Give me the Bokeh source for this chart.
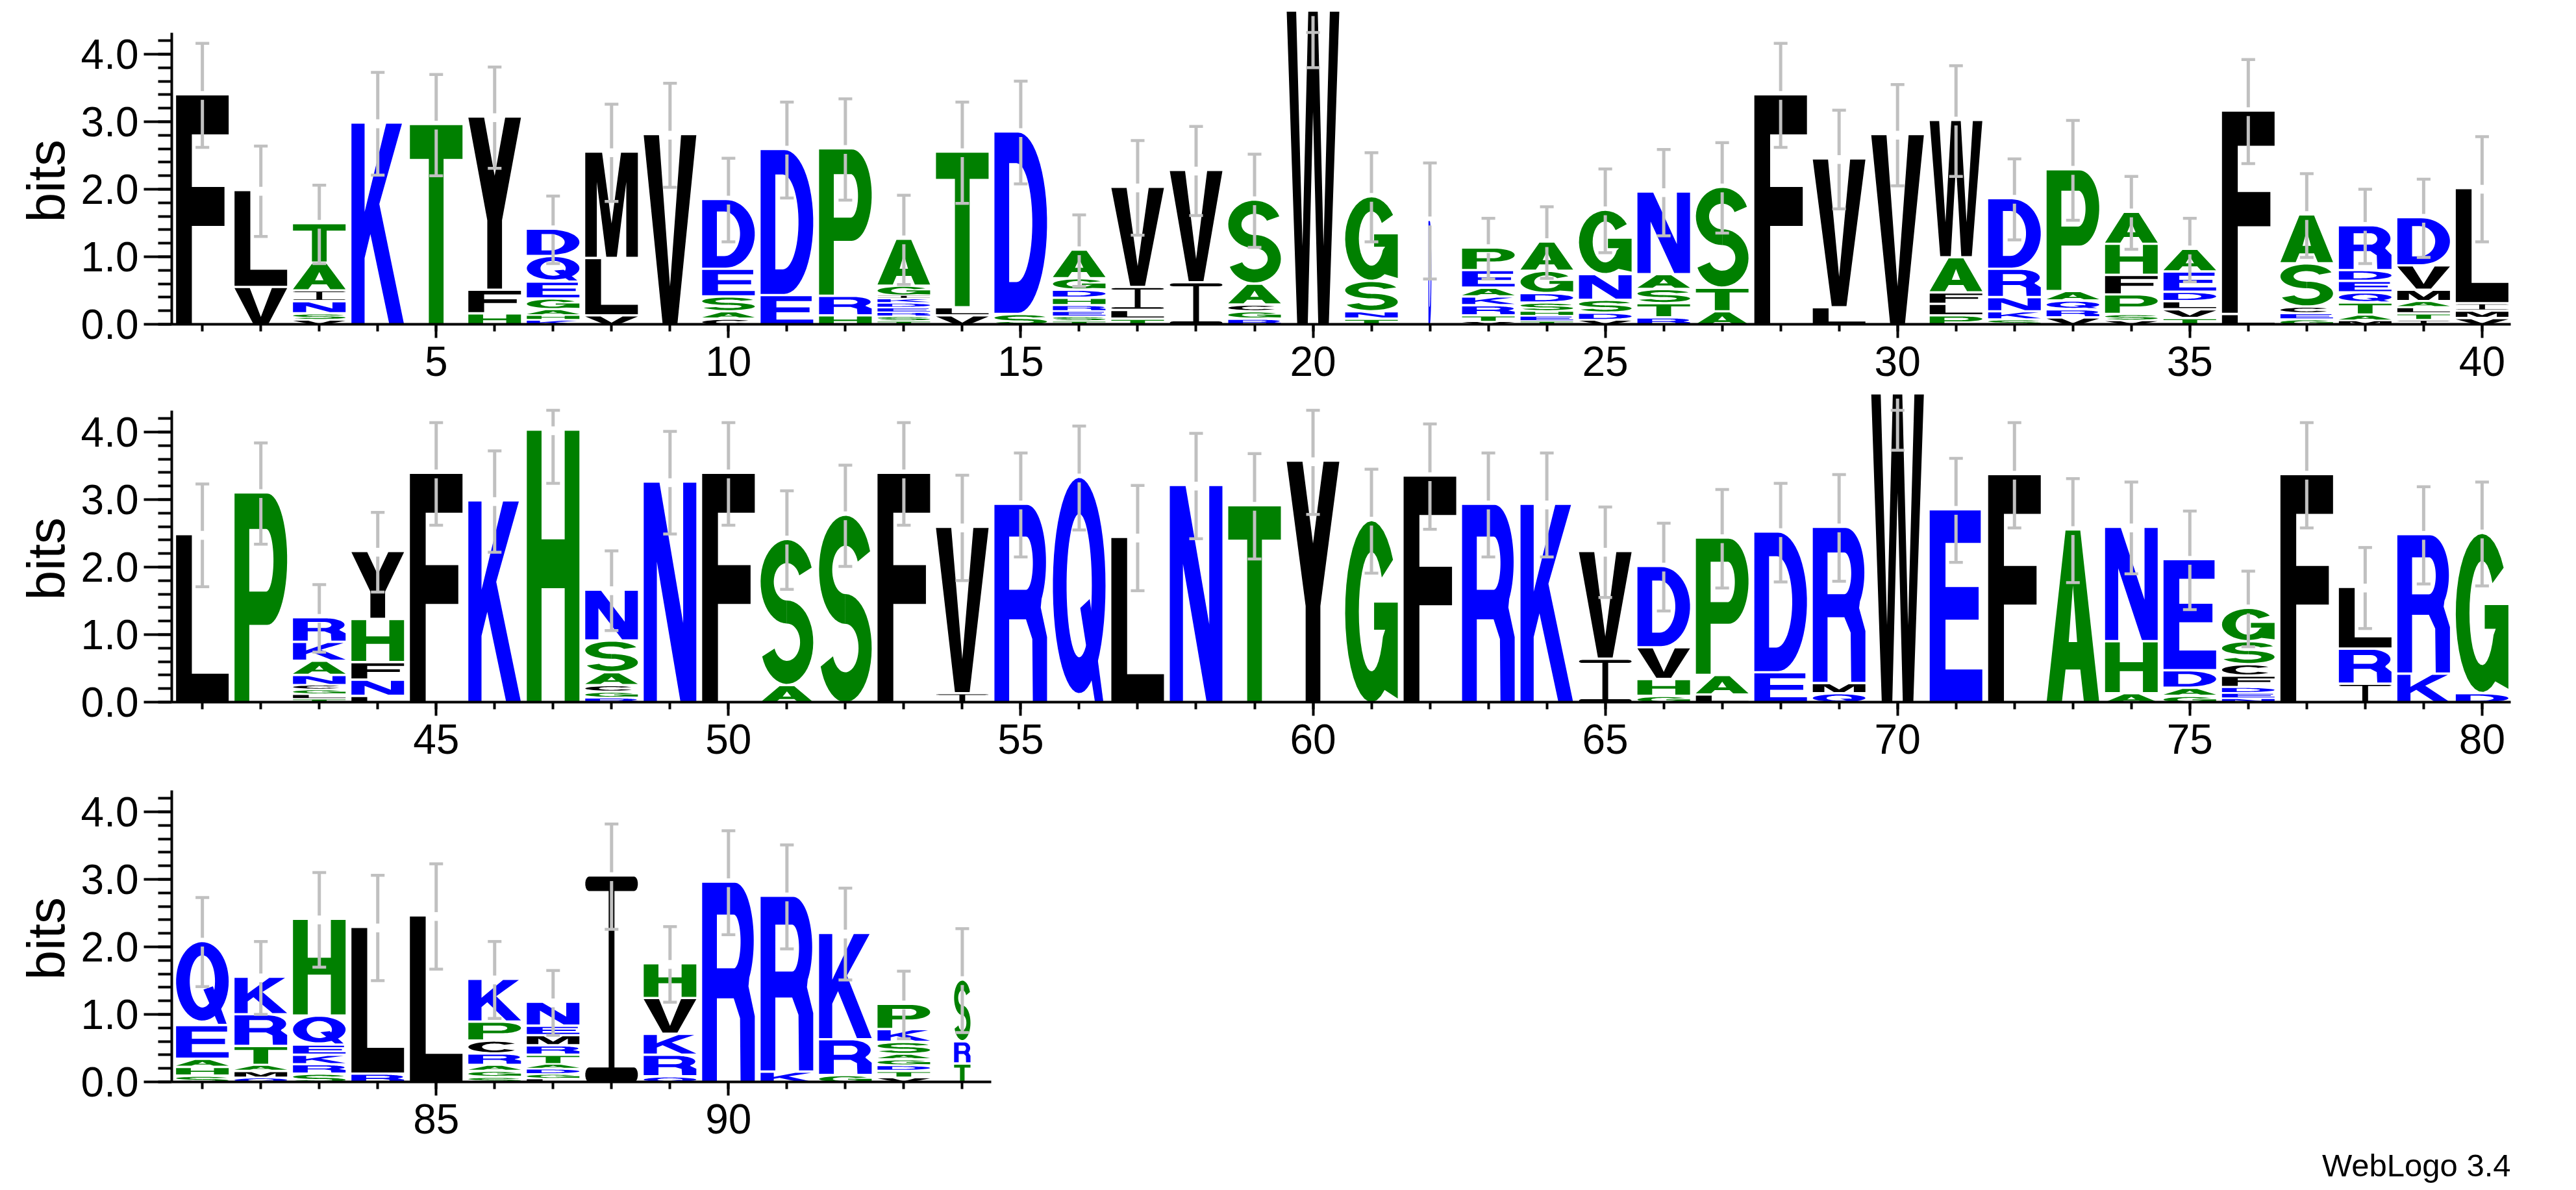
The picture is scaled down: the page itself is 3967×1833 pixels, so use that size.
import numpy as np
from bokeh.plotting import figure
from bokeh.models import (ColumnDataSource, Range1d, FixedTicker, SingleIntervalTicker,
                          PrintfTickFormatter, Title)
from bokeh.layouts import column
from bokeh.embed import file_html
from bokeh.resources import INLINE

# ---------------------------------------------------------------- data
# letters of each stack, bottom -> top, and their heights in bits
row1_letters = ["F", "VL", "VSNIAT", "K", "T", "HFY", "KHAGEQD", "VLM", "V", "CASED",
                "ED", "HRP", "TSREDKIGA", "VLT", "SD", "TSERHDGA", "TLIV", "IV", "RGCAS", "W",
                "TNSG", "D", "VTRKAEP", "TEHSDGA", "VDSNG", "RTSAN", "ATS", "F", "LV", "V",
                "PLFAW", "SKNRD", "VRQAP", "VSPFHA", "TVLDEA", "LF", "GECSA", "MATQEDR", "ITLAMVD", "VMIL"]
row1_heights = [[3.39], [0.57, 1.40], [0.08, 0.10, 0.18, 0.16, 0.41, 0.55], [2.97], [2.95],
                [0.18, 0.35, 2.53], [0.08, 0.07, 0.09, 0.16, 0.25, 0.38, 0.37], [0.15, 0.85, 1.54],
                [2.80], [0.10, 0.11, 0.22, 0.41, 1.00],
                [0.45, 2.13], [0.15, 0.29, 2.15], [0.06, 0.07, 0.06, 0.07, 0.07, 0.06, 0.05, 0.15, 0.66],
                [0.15, 0.12, 2.27], [0.17, 2.67], [0.06, 0.07, 0.08, 0.09, 0.11, 0.12, 0.17, 0.39],
                [0.10, 0.13, 0.34, 1.45], [0.64, 1.63], [0.10, 0.11, 0.10, 0.31, 1.21], [4.63],
                [0.10, 0.11, 0.45, 1.22], [1.53], [0.05, 0.10, 0.15, 0.13, 0.13, 0.26, 0.30],
                [0.06, 0.08, 0.07, 0.13, 0.14, 0.33, 0.40], [0.08, 0.11, 0.19, 0.38, 0.92],
                [0.12, 0.21, 0.21, 0.22, 1.19], [0.21, 0.35, 1.46], [3.39], [0.27, 2.17], [2.80],
                [0.15, 0.17, 0.17, 0.52, 2.00], [0.09, 0.12, 0.21, 0.42, 1.01], [0.12, 0.12, 0.13, 0.14, 1.77],
                [0.07, 0.10, 0.29, 0.29, 0.46, 0.44], [0.11, 0.13, 0.12, 0.14, 0.30, 0.30], [0.17, 2.98],
                [0.09, 0.09, 0.10, 0.64, 0.69], [0.07, 0.09, 0.18, 0.15, 0.17, 0.16, 0.63],
                [0.08, 0.10, 0.09, 0.09, 0.17, 0.36, 0.68], [0.11, 0.11, 0.11, 1.67]]
row1_err = [0.77, 0.67, 0.58, 0.76, 0.75, 0.75, 0.50, 0.72, 0.77, 0.62,
            0.71, 0.75, 0.66, 0.75, 0.76, 0.53, 0.70, 0.66, 0.69, 0.83,
            0.66, 0.86, 0.45, 0.53, 0.62, 0.64, 0.67, 0.77, 0.73, 0.75,
            0.82, 0.60, 0.74, 0.54, 0.47, 0.77, 0.62, 0.55, 0.58, 0.78]

row2_letters = ["L", "P", "TLGCNAKR", "LNFHY", "F", "K", "H", "RGCASN", "N", "F",
                "AS", "S", "F", "IV", "R", "Q", "L", "N", "T", "Y",
                "G", "F", "R", "K", "IV", "GHVD", "LAP", "ED", "QMR", "W",
                "E", "F", "A", "AHN", "GADE", "NEDFCSG", "F", "IRL", "KR", "DG"]
row2_heights = [[2.47], [3.09], [0.06, 0.07, 0.07, 0.07, 0.15, 0.21, 0.28, 0.33],
                [0.11, 0.24, 0.26, 0.64, 0.97], [3.38], [2.97], [4.02],
                [0.08, 0.09, 0.10, 0.19, 0.47, 0.72], [3.25], [3.38],
                [0.27, 2.13], [2.76], [3.38], [0.15, 2.43], [2.92], [3.32], [2.43], [3.20], [2.90], [3.56],
                [2.68], [3.34], [2.92], [2.92], [0.66, 1.56], [0.11, 0.25, 0.47, 1.17], [0.13, 0.29, 2.00],
                [0.46, 2.05], [0.15, 0.15, 2.28], [4.56],
                [2.84], [3.36], [2.54], [0.15, 0.77, 1.66], [0.11, 0.12, 0.26, 1.61],
                [0.07, 0.08, 0.09, 0.17, 0.17, 0.34, 0.46], [3.36], [0.29, 0.52, 0.88], [0.44, 2.03],
                [0.15, 2.34]]
row2_err = [0.76, 0.75, 0.50, 0.59, 0.76, 0.75, 0.78, 0.59, 0.76, 0.76,
            0.73, 0.75, 0.76, 0.78, 0.77, 0.77, 0.78, 0.78, 0.78, 0.78,
            0.77, 0.78, 0.77, 0.77, 0.67, 0.65, 0.73, 0.73, 0.79, 0.83,
            0.77, 0.78, 0.77, 0.68, 0.73, 0.56, 0.78, 0.60, 0.72, 0.77]

row3_letters = ["SHAEQ", "QMATRK", "SRKEQH", "RL", "L", "SGARCPK", "LGDATRMEN", "I", "QRKVH", "R",
                "KR", "GRK", "VTDGASKP", "TRS"]
row3_heights = [[0.11, 0.13, 0.12, 0.50, 1.21], [0.08, 0.10, 0.09, 0.28, 0.47, 0.52],
                [0.14, 0.14, 0.14, 0.15, 0.43, 1.40], [0.14, 2.14], [2.45],
                [0.09, 0.09, 0.09, 0.17, 0.19, 0.28, 0.60],
                [0.06, 0.07, 0.08, 0.07, 0.14, 0.14, 0.15, 0.14, 0.32], [3.04],
                [0.10, 0.32, 0.31, 0.53, 0.48], [2.95], [0.17, 2.57], [0.12, 0.53, 1.54],
                [0.08, 0.10, 0.08, 0.09, 0.08, 0.18, 0.19, 0.34], [0.29, 0.33, 0.88]]
row3_err = [0.66, 0.54, 0.70, 0.78, 0.78, 0.57, 0.48, 0.78, 0.56, 0.77, 0.77, 0.68, 0.50, 0.77]

# stacks drawn narrower than the default width
narrow_stacks = {22: 0.05, 94: 0.28}

x_ticks_row1 = [5, 10, 15, 20, 25, 30, 35, 40]
x_ticks_row2 = [45, 50, 55, 60, 65, 70, 75, 80]
x_ticks_row3 = [85, 90]

# hydrophobicity colour scheme
COLORS = {}
for c in "RKDENQ":
    COLORS[c] = "#0000FF"
for c in "SGHTAP":
    COLORS[c] = "#008000"
for c in "YVMCLFIW":
    COLORS[c] = "#000000"

MAXBITS = float(np.log2(20))
PX_PER_BIT = 104.0
FONT = "Liberation Sans"


# ---------------------------------------------------------------- letter shapes (unit box)
def arc(cx, cy, rx, ry, a0, a1, n=30):
    t = np.radians(np.linspace(a0, a1, n))
    return [(cx + rx * np.cos(a), cy + ry * np.sin(a)) for a in t]


def band(cx, cy, rx, ry, tx, ty, a0, a1, n=34):
    return arc(cx, cy, rx, ry, a0, a1, n) + arc(cx, cy, rx - tx, ry - ty, a1, a0, n)


def ell(cx, cy, rx, ry, n=56):
    return arc(cx, cy, rx, ry, 0, 360, n)[:-1]


GLYPHS = {
    "F": [[[(0, 0), (0.3, 0), (0.3, 0.43), (0.92, 0.43), (0.92, 0.6), (0.3, 0.6), (0.3, 0.83), (1, 0.83), (1, 1), (0, 1)]]],
    "E": [[[(0, 0), (1, 0), (1, 0.17), (0.3, 0.17), (0.3, 0.43), (0.93, 0.43), (0.93, 0.6), (0.3, 0.6),
            (0.3, 0.83), (0.97, 0.83), (0.97, 1), (0, 1)]]],
    "L": [[[(0, 0), (1, 0), (1, 0.17), (0.3, 0.17), (0.3, 1), (0, 1)]]],
    "T": [[[(0.36, 0), (0.64, 0), (0.64, 0.83), (1, 0.83), (1, 1), (0, 1), (0, 0.83), (0.36, 0.83)]]],
    "H": [[[(0, 0), (0.28, 0), (0.28, 0.42), (0.72, 0.42), (0.72, 0), (1, 0), (1, 1), (0.72, 1), (0.72, 0.6),
            (0.28, 0.6), (0.28, 1), (0, 1)]]],
    "K": [[[(0, 0), (0.25, 0), (0.25, 0.33), (0.36, 0.45), (0.72, 0), (1, 0), (0.53, 0.6), (0.96, 1), (0.66, 1),
            (0.25, 0.56), (0.25, 1), (0, 1)]]],
    "V": [[[(0, 1), (0.29, 1), (0.5, 0.2), (0.71, 1), (1, 1), (0.64, 0), (0.36, 0)]]],
    "Y": [[[(0, 1), (0.3, 1), (0.5, 0.66), (0.7, 1), (1, 1), (0.64, 0.4), (0.64, 0), (0.36, 0), (0.36, 0.4)]]],
    "W": [[[(0, 1), (0.18, 1), (0.3, 0.25), (0.41, 1), (0.59, 1), (0.7, 0.25), (0.82, 1), (1, 1), (0.8, 0),
            (0.6, 0), (0.5, 0.68), (0.4, 0), (0.2, 0)]]],
    "N": [[[(0, 0), (0.25, 0), (0.25, 0.64), (0.7, 0), (1, 0), (1, 1), (0.75, 1), (0.75, 0.36), (0.3, 1), (0, 1)]]],
    "M": [[[(0, 0), (0.22, 0), (0.22, 0.72), (0.4, 0), (0.6, 0), (0.78, 0.72), (0.78, 0), (1, 0), (1, 1),
            (0.68, 1), (0.5, 0.32), (0.32, 1), (0, 1)]]],
    "A": [[[(0, 0), (0.29, 0), (0.36, 0.19), (0.64, 0.19), (0.71, 0), (1, 0), (0.64, 1), (0.36, 1)],
           [(0.42, 0.35), (0.58, 0.35), (0.5, 0.68)]]],
    "I": [[arc(0.93, 0.035, 0.07, 0.035, -90, 90, 10) + arc(0.07, 0.035, 0.07, 0.035, 90, 270, 10)],
          [arc(0.93, 0.965, 0.07, 0.035, -90, 90, 10) + arc(0.07, 0.965, 0.07, 0.035, 90, 270, 10)],
          [[(0.445, 0.03), (0.555, 0.03), (0.555, 0.97), (0.445, 0.97)]]],
    "D": [[[(0, 0), (0.45, 0)] + arc(0.45, 0.5, 0.55, 0.5, -90, 90) + [(0, 1)],
           [(0.28, 0.17), (0.42, 0.17)] + arc(0.42, 0.5, 0.3, 0.33, -90, 90) + [(0.28, 0.83)]]],
    "P": [[[(0, 0), (0.28, 0), (0.28, 0.37), (0.62, 0.37)] + arc(0.62, 0.685, 0.38, 0.315, -90, 90) + [(0, 1)],
           [(0.28, 0.53), (0.6, 0.53)] + arc(0.6, 0.68, 0.14, 0.15, -90, 90) + [(0.28, 0.83)]]],
    "R": [[[(0, 0), (0.28, 0), (0.28, 0.42), (0.6, 0.42), (0.72, 0.32), (0.73, 0), (1, 0), (1, 0.33), (0.88, 0.48)]
           + arc(0.62, 0.71, 0.36, 0.29, -40, 90) + [(0, 1)],
           [(0.28, 0.57), (0.6, 0.57)] + arc(0.6, 0.705, 0.13, 0.135, -90, 90) + [(0.28, 0.84)]]],
    "Q": [[ell(0.5, 0.52, 0.5, 0.48), ell(0.5, 0.52, 0.24, 0.32)],
          [[(0.52, 0.42), (0.7, 0.46), (0.96, 0.0), (0.8, 0.0)]]],
    "C": [[band(0.5, 0.5, 0.5, 0.5, 0.26, 0.17, 40, 320)]],
    "G": [[arc(0.5, 0.5, 0.5, 0.5, 35, 300) + [(1.0, 0.02), (1.0, 0.55), (0.55, 0.55), (0.55, 0.4), (0.76, 0.4)]
           + arc(0.5, 0.5, 0.24, 0.33, -25, -325)]],
    "S": [[band(0.5, 0.71, 0.5, 0.29, 0.25, 0.16, 20, 270)],
          [band(0.5, 0.29, 0.5, 0.29, 0.25, 0.16, -160, 90)]],
}

PAD = 0.035      # small gap between stacked letters (bits)
GAP = 0.065      # the error bar is interrupted around the top of the stack
CAP = 0.117      # half width of the error bar caps (positions)


def build(first_pos, letters, heights, errs):
    xs, ys, cols = [], [], []
    bx, by0, by1 = [], [], []
    cx0, cx1, cy = [], [], []
    for i, (lets, hs, e) in enumerate(zip(letters, heights, errs)):
        pos = first_pos + i
        wf = narrow_stacks.get(pos, 0.9)
        y0 = 0.0
        n = len(lets)
        for k, (ch, h) in enumerate(zip(lets, hs)):
            gh = h if k == n - 1 else h - min(PAD, 0.35 * h)
            for poly in GLYPHS[ch]:
                xs.append([[[pos + (u - 0.5) * wf for u, v in ring] for ring in poly]])
                ys.append([[[y0 + v * gh for u, v in ring] for ring in poly]])
                cols.append(COLORS[ch])
            y0 += h
        top = y0
        lo = top - e
        hi = min(top + e, MAXBITS)
        if lo < top - GAP:
            bx.append(pos); by0.append(lo); by1.append(top - GAP)
        if top + GAP < hi:
            bx.append(pos); by0.append(top + GAP); by1.append(hi)
        for yy in (lo, hi):
            cx0.append(pos - CAP); cx1.append(pos + CAP); cy.append(yy)
    letters_src = ColumnDataSource(dict(xs=xs, ys=ys, color=cols))
    bars_src = ColumnDataSource(dict(x=bx, y0=by0, y1=by1))
    caps_src = ColumnDataSource(dict(x0=cx0, x1=cx1, y=cy))
    return letters_src, bars_src, caps_src


def make_row(first_pos, letters, heights, errs, ticks, frame_h, border_top, border_bottom):
    x0 = first_pos - 0.524
    x1 = first_pos + 39.49
    p = figure(frame_width=3602, frame_height=frame_h,
               x_range=Range1d(x0, x1), y_range=Range1d(0, frame_h / PX_PER_BIT),
               output_backend="svg", toolbar_location=None,
               min_border_left=264, min_border_right=40, min_border_top=border_top,
               min_border_bottom=border_bottom)
    p.outline_line_color = None
    p.grid.visible = False

    lsrc, bsrc, csrc = build(first_pos, letters, heights, errs)
    p.multi_polygons(xs="xs", ys="ys", fill_color="color", line_color=None, source=lsrc)
    p.segment(x0="x", y0="y0", x1="x", y1="y1", source=bsrc, line_color="#C0C0C0", line_width=5)
    p.segment(x0="x0", y0="y", x1="x1", y1="y", source=csrc, line_color="#C0C0C0", line_width=4.5)

    last = first_pos + len(letters) - 1
    xa = p.xaxis[0]
    xa.ticker = FixedTicker(ticks=ticks, minor_ticks=list(range(first_pos, last + 1)))
    xa.bounds = (x0, last + 0.5)
    xa.axis_line_width = 4
    xa.major_tick_line_width = 4
    xa.minor_tick_line_width = 4
    xa.major_tick_out = 21
    xa.major_tick_in = 0
    xa.minor_tick_out = 11
    xa.minor_tick_in = 0
    xa.major_label_standoff = 13
    xa.major_label_text_font = FONT
    xa.major_label_text_font_size = "64px"
    xa.major_label_text_color = "black"

    ya = p.yaxis[0]
    ya.ticker = SingleIntervalTicker(interval=1, num_minor_ticks=5)
    ya.formatter = PrintfTickFormatter(format="%.1f")
    ya.bounds = (0, MAXBITS)
    ya.axis_line_width = 4
    ya.major_tick_line_width = 4
    ya.minor_tick_line_width = 4
    ya.major_tick_out = 43
    ya.major_tick_in = 0
    ya.minor_tick_out = 21
    ya.minor_tick_in = 0
    ya.major_label_standoff = 8
    ya.major_label_text_font = FONT
    ya.major_label_text_font_size = "64px"
    ya.major_label_text_color = "black"

    # "bits" label, centred on the 0 .. log2(20) axis rather than on the frame
    p.add_layout(Title(text="bits", align="left", offset=157, text_font=FONT, text_font_size="82px",
                       text_font_style="normal", text_color="black", standoff=11), "left")
    return p


p1 = make_row(1, row1_letters, row1_heights, row1_err, x_ticks_row1, 491, 8, 108)
p2 = make_row(41, row2_letters, row2_heights, row2_err, x_ticks_row2, 474, 0, 108)
p3 = make_row(81, row3_letters, row3_heights, row3_err, x_ticks_row3, 477, 0, 166)
p3.add_layout(Title(text="WebLogo 3.4", align="right", text_font=FONT, text_font_size="49px",
                    text_font_style="normal", text_color="black", standoff=34), "below")

layout = column(p1, p2, p3)
open("out.html", "w").write(file_html(layout, INLINE))
